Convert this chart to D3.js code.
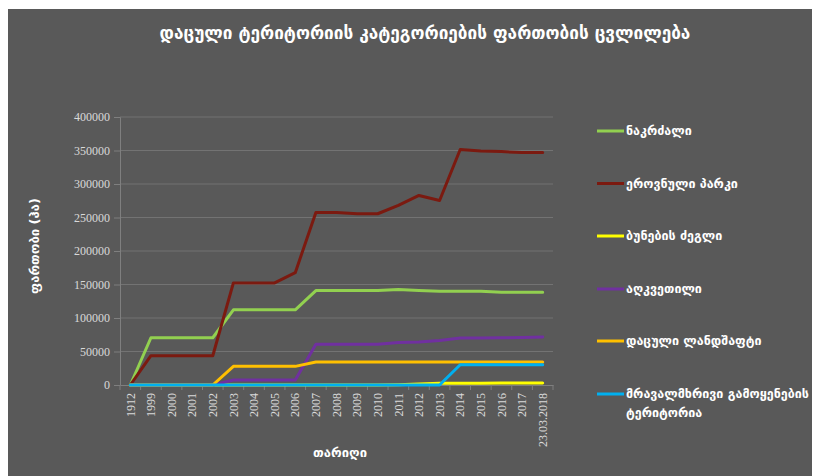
<!DOCTYPE html>
<html><head><meta charset="utf-8">
<script src="https://cdn.jsdelivr.net/npm/d3@7"></script>
<style>body{margin:0;background:#fff}svg{display:block}</style>
</head><body>
<svg id="c" width="819" height="476"></svg>
<script>
const categories = ["1912","1999","2000","2001","2002","2003","2004","2005","2006","2007","2008","2009","2010","2011","2012","2013","2014","2015","2016","2017","23.03.2018"];
const seriesNames = ["ნაკრძალი","ეროვნული პარკი","ბუნების ძეგლი","აღკვეთილი","დაცული ლანდშაფტი","მრავალმხრივი გამოყენების ტერიტორია"];
const nakrdzali = [0,70500,70500,70500,70500,112200,112200,112200,112200,140900,140900,140900,140900,142400,140900,140000,140000,140000,138500,138500,138500];
const erovnuliParki = [0,43700,43700,43700,43700,152400,152400,152400,167700,257600,257600,255600,255600,268000,282900,275400,351400,349400,348400,346900,346900];
const bunebisDzegli = [0,0,0,0,0,0,0,0,0,0,0,0,0,500,1500,2500,2500,2600,3000,3000,2900];
const aghkvetili = [0,0,0,0,0,7400,7400,7400,7400,61000,61000,61000,61000,63500,64000,66500,70000,70000,70500,71000,71500];
const datsuliLandshafti = [0,0,0,0,0,27800,27800,27800,27800,34200,34200,34200,34200,34200,34200,34200,34200,34200,34200,34200,34200];
const mravalmkhrivi = [0,0,0,0,0,0,0,0,0,0,0,0,0,0,0,0,30300,30300,30300,30300,30300];
const yTicks = [0,50000,100000,150000,200000,250000,300000,350000,400000];
const colors = ["#92D050","#7B1A10","#FFFF00","#7030A0","#FFC000","#00B0F0"];
const allSeries = [nakrdzali, erovnuliParki, bunebisDzegli, aghkvetili, datsuliLandshafti, mravalmkhrivi];

const svg = d3.select("#c");
const geo = "'DejaVu Sans', sans-serif";
const serif = "'Liberation Serif','Times New Roman',serif";

svg.append("rect").attr("x",8).attr("y",9).attr("width",804).attr("height",467).attr("fill","#595959");

const pL = 120, pR = 553, pT = 117, pB = 385;
const x = d3.scaleBand().domain(categories).range([pL, pR]);
const y = d3.scaleLinear().domain([0,400000]).range([pB, pT]);

// gridlines
svg.append("g").selectAll("line").data(yTicks.filter(d=>d>0)).join("line")
  .attr("x1",pL).attr("x2",pR).attr("y1",d=>y(d)).attr("y2",d=>y(d))
  .attr("stroke","#737373").attr("stroke-width",1);

// y axis
const ya = svg.append("g").attr("transform",`translate(${pL},0)`)
  .call(d3.axisLeft(y).tickValues(yTicks).tickFormat(d=>String(d)).tickSize(6).tickPadding(4));
ya.select(".domain").attr("stroke","#7F7F7F");
ya.selectAll(".tick line").attr("stroke","#7F7F7F");
ya.selectAll("text").attr("fill","#D9D9D9").style("font-family",serif).style("font-size","12px");

// x axis
const xa = svg.append("g").attr("transform",`translate(0,${pB})`)
  .call(d3.axisBottom(x).tickSize(0).tickPadding(0));
xa.select(".domain").attr("stroke","#7F7F7F");
xa.selectAll(".tick text").attr("fill","#D9D9D9").style("font-family",serif).style("font-size","12px")
  .attr("transform","rotate(-90)").attr("text-anchor","end").attr("x",-8).attr("y",0).attr("dy","0.35em");
// tick marks between categories
const bounds = categories.map(c=>x(c)).concat([pR]);
svg.append("g").selectAll("line").data(bounds).join("line")
  .attr("x1",d=>d).attr("x2",d=>d).attr("y1",pB).attr("y2",pB+5)
  .attr("stroke","#7F7F7F");

// lines
const line = d3.line().x((d,i)=>x(categories[i])+x.bandwidth()/2).y(d=>y(d));
svg.append("g").selectAll("path").data(allSeries).join("path")
  .attr("d",d=>line(d)).attr("fill","none")
  .attr("stroke",(d,i)=>colors[i]).attr("stroke-width",3).attr("stroke-linejoin","round").attr("stroke-linecap","round");

// title
svg.append("text").attr("x",425).attr("y",39).attr("text-anchor","middle")
  .attr("fill","#FFFFFF").style("font-family",geo).style("font-size","17.2px").style("font-weight","bold")
  .text("დაცული ტერიტორიის კატეგორიების ფართობის ცვლილება");

// axis titles
svg.append("text").attr("transform","translate(39,246) rotate(-90)").attr("text-anchor","middle")
  .attr("fill","#FFFFFF").style("font-family",geo).style("font-size","13px").style("font-weight","bold")
  .text("ფართობი (ჰა)");
svg.append("text").attr("x",340).attr("y",457).attr("text-anchor","middle")
  .attr("fill","#FFFFFF").style("font-family",geo).style("font-size","13px").style("font-weight","bold")
  .text("თარიღი");

// legend
const legY = [131,183.5,236,289,341,394];
const lg = svg.append("g").selectAll("g").data(seriesNames).join("g")
  .attr("transform",(d,i)=>`translate(597,${legY[i]})`);
lg.append("line").attr("x1",0).attr("x2",27).attr("y1",0).attr("y2",0)
  .attr("stroke",(d,i)=>colors[i]).attr("stroke-width",3);
lg.append("text").attr("x",29).attr("y",0)
  .attr("fill","#FFFFFF").style("font-family",geo).style("font-size","12.5px").style("font-weight","bold")
  .each(function(d){
    const t = d3.select(this);
    const words = d === "მრავალმხრივი გამოყენების ტერიტორია" ? ["მრავალმხრივი გამოყენების","ტერიტორია"] : [d];
    words.forEach((w,k)=>t.append("tspan").attr("x",29).attr("dy",k===0?"0.35em":"19px").text(w));
  });
</script>
</body></html>
